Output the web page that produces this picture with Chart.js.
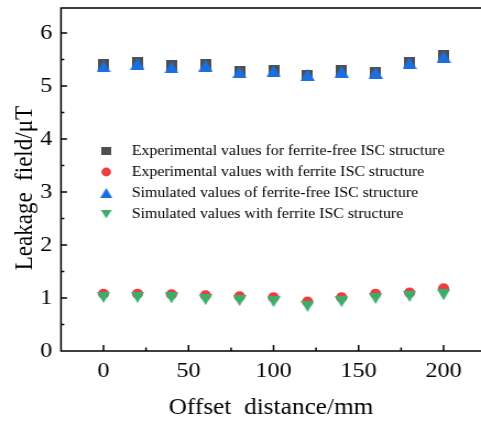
<!DOCTYPE html>
<html>
<head>
<meta charset="utf-8">
<script src="https://cdn.jsdelivr.net/npm/chart.js@4.4.1/dist/chart.umd.min.js"></script>
<style>
  html, body { margin: 0; padding: 0; background: #fff; overflow: hidden; }
  /* figure is laid out a little narrower, then widened to the page box */
  #leakChart { width: 481px; height: 426px; display: block; }
</style>
</head>
<body>
<canvas id="leakChart" width="437" height="426" style="width:481px;height:426px"></canvas>
<script>
// offset distance (mm)
var offsets = [0, 20, 40, 60, 80, 100, 120, 140, 160, 180, 200];

// leakage field (uT)
var expFree = [5.41, 5.44, 5.39, 5.41, 5.27, 5.29, 5.20, 5.29, 5.25, 5.44, 5.57];
var expFerrite = [1.08, 1.08, 1.07, 1.05, 1.03, 1.01, 0.93, 1.01, 1.08, 1.10, 1.18];
var simFree = [5.37, 5.42, 5.35, 5.38, 5.26, 5.28, 5.21, 5.27, 5.25, 5.43, 5.55];
var simFerrite = [1.01, 1.01, 1.00, 0.97, 0.95, 0.93, 0.84, 0.93, 0.99, 1.03, 1.06];

var seriesNames = [
  'Experimental values for ferrite-free ISC structure',
  'Experimental values with ferrite ISC structure',
  'Simulated values of ferrite-free ISC structure',
  'Simulated values with ferrite ISC structure'
];

var xTicks = [0, 50, 100, 150, 200];
var yTicks = [0, 1, 2, 3, 4, 5, 6];

var serif = "'Liberation Serif', 'Times New Roman', serif";

// little marker bitmaps so the triangles sit centred on their value
function makeMarker(shape, w, h, fill) {
  var c = document.createElement('canvas');
  c.width = w;
  c.height = h;
  var g = c.getContext('2d');
  g.fillStyle = fill;
  g.beginPath();
  if (shape === 'square') {
    g.rect(0, 0, w, h);
  } else if (shape === 'up') {
    g.moveTo(w / 2, 0); g.lineTo(w, h); g.lineTo(0, h);
  } else {
    g.moveTo(0, 0); g.lineTo(w, 0); g.lineTo(w / 2, h);
  }
  g.closePath();
  g.fill();
  return c;
}

var squareMark = makeMarker('square', 10, 11, '#4f4f4f');
var upMark = makeMarker('up', 13, 12, '#1c6fe0');
var downMark = makeMarker('down', 12, 11, '#3aae6b');
var circleColor = '#f03c40';

function pts(arr) {
  return offsets.map(function(x, i) { return { x: x, y: arr[i] }; });
}

// fixed axis boxes, no extra room for overhanging labels
function fixBox(prop, size) {
  return function(s) {
    s[prop] = size;
    s.paddingTop = s.paddingBottom = s.paddingLeft = s.paddingRight = 0;
  };
}

// box edges and inward-pointing ticks
var frameTicks = {
  id: 'frameTicks',
  afterDraw: function(chart) {
    var ctx = chart.ctx, a = chart.chartArea;
    var xs = chart.scales.x, ys = chart.scales.y;
    var right = chart.width;
    ctx.save();
    ctx.strokeStyle = '#000';
    ctx.lineWidth = 1.5;
    ctx.beginPath();
    ctx.moveTo(a.left, a.bottom); ctx.lineTo(right, a.bottom);
    ctx.moveTo(a.left, a.bottom + 0.75); ctx.lineTo(a.left, a.top - 0.75);
    ctx.moveTo(a.left, a.top); ctx.lineTo(right, a.top);
    ctx.stroke();

    ctx.beginPath();
    for (var v = 0; v <= 200; v += 25) {
      var px = xs.getPixelForValue(v);
      var len = v % 50 === 0 ? 6 : 3.5;
      ctx.moveTo(px, a.bottom); ctx.lineTo(px, a.bottom - len);
    }
    for (var y = 0.5; y <= 6; y += 0.5) {
      var py = ys.getPixelForValue(y);
      var l = y % 1 === 0 ? 5.5 : 3;
      ctx.moveTo(a.left, py); ctx.lineTo(a.left + l, py);
    }
    ctx.stroke();
    ctx.restore();
  }
};

// legend block drawn inside the plot
var innerLegend = {
  id: 'innerLegend',
  afterDraw: function(chart) {
    var ctx = chart.ctx;
    var x0 = 96.5, tx = 119.7, y0 = 151, step = 21;
    ctx.save();
    ctx.font = '14.4px ' + serif;
    ctx.textBaseline = 'middle';
    chart.data.datasets.forEach(function(ds, i) {
      var y = y0 + i * step;
      var st = ds.pointStyle;
      if (st === 'circle') {
        ctx.fillStyle = ds.backgroundColor;
        ctx.beginPath();
        ctx.arc(x0, y, 4.4, 0, Math.PI * 2);
        ctx.fill();
      } else {
        var w = st.width * 0.85, h = st.height * 0.8;
        ctx.drawImage(st, x0 - w / 2, y - h / 2, w, h);
      }
      ctx.fillStyle = '#000';
      ctx.fillText(ds.label, tx, y);
    });
    ctx.restore();
  }
};

new Chart(document.getElementById('leakChart'), {
  type: 'scatter',
  data: {
    datasets: [
      {
        label: seriesNames[0],
        data: pts(expFree),
        pointStyle: squareMark,
        pointRadius: 6,
        order: 1
      },
      {
        label: seriesNames[1],
        data: pts(expFerrite),
        pointStyle: 'circle',
        pointRadius: 5.1,
        pointBorderWidth: 0,
        backgroundColor: circleColor,
        borderColor: circleColor,
        order: 1
      },
      {
        label: seriesNames[2],
        data: pts(simFree),
        pointStyle: upMark,
        pointRadius: 6,
        order: 0
      },
      {
        label: seriesNames[3],
        data: pts(simFerrite),
        pointStyle: downMark,
        pointRadius: 6,
        order: 0
      }
    ]
  },
  options: {
    responsive: false,
    animation: false,
    layout: { autoPadding: false, padding: { top: 8, right: 0, left: 0, bottom: 0 } },
    plugins: {
      legend: { display: false },
      tooltip: { enabled: false }
    },
    scales: {
      x: {
        type: 'linear',
        min: -25,
        max: 222,
        afterFit: fixBox('height', 75),
        afterBuildTicks: function(s) { s.ticks = xTicks.map(function(v) { return { value: v }; }); },
        grid: { display: false, drawTicks: false },
        border: { display: false },
        ticks: { color: '#000', padding: 7, font: { family: serif, size: 22 } },
        title: {
          display: true,
          text: 'Offset  distance/mm',
          color: '#000',
          padding: { top: 0, bottom: 4 },
          font: { family: serif, size: 23 }
        }
      },
      y: {
        type: 'linear',
        min: 0,
        max: 6.47,
        afterFit: fixBox('width', 55.4),
        afterBuildTicks: function(s) { s.ticks = yTicks.map(function(v) { return { value: v }; }); },
        grid: { display: false, drawTicks: false },
        border: { display: false },
        ticks: { color: '#000', padding: 8, font: { family: serif, size: 22 } },
        title: {
          display: true,
          // trailing spaces nudge the rotated title a little lower
          text: 'Leakage  field/\u03bcT   ',
          color: '#000',
          padding: { top: 9, bottom: 0 },
          font: { family: serif, size: 23 }
        }
      }
    }
  },
  plugins: [frameTicks, innerLegend]
});
</script>
</body>
</html>
